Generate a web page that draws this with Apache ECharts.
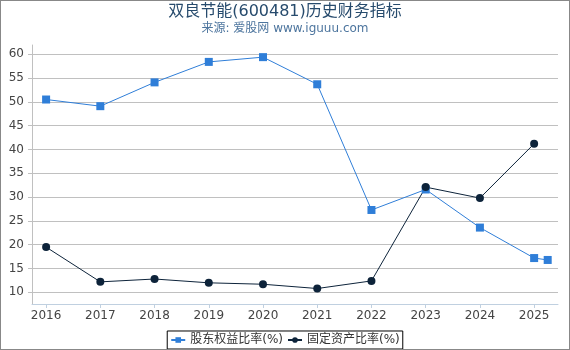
<!DOCTYPE html>
<html>
<head>
<meta charset="utf-8">
<script src="https://cdn.jsdelivr.net/npm/echarts@6/dist/echarts.min.js"></script>
<style>
  html, body { margin: 0; padding: 0; background: #fff; }
  #chart { width: 568px; height: 348px; border: 1px solid #888; }
</style>
</head>
<body>
<div id="chart"></div>
<script>
// 数据
const years = [2016, 2017, 2018, 2019, 2020, 2021, 2022, 2023, 2024, 2025]
const equityX = [2016, 2017, 2018, 2019, 2020, 2021, 2022, 2023, 2024, 2025, 2025.25]
const equityRatio = [50.5, 49.1, 54.1, 58.4, 59.4, 53.7, 27.3, 31.6, 23.6, 17.2, 16.8]
const fixedAssetRatio = [19.5, 12.2, 12.8, 12.0, 11.7, 10.8, 12.4, 32.1, 29.8, 41.2]
const yTicks = [10, 15, 20, 25, 30, 35, 40, 45, 50, 55, 60]

const chart = echarts.init(document.getElementById('chart'))

const font = 'DejaVu Sans, Noto Sans CJK SC, sans-serif'

chart.setOption({
  animation: false,
  title: {
    text: '双良节能(600481)历史财务指标',
    subtext: '来源: 爱股网 www.iguuu.com',
    left: 'center',
    top: -2,
    itemGap: 3,
    textStyle: { color: '#274b6d', fontSize: 16, fontWeight: 'normal', fontFamily: font },
    subtextStyle: { color: '#4d759e', fontSize: 12, fontFamily: font }
  },
  legend: {
    bottom: 0,
    left: 'center',
    itemWidth: 14,
    itemHeight: 7,
    itemGap: 4,
    padding: [3, 3],
    borderColor: '#000',
    borderWidth: 1,
    borderRadius: 0,
    textStyle: { color: '#333', fontSize: 12, fontFamily: font }
  },
  grid: { left: 31, right: 11, top: 44, bottom: 45 },
  xAxis: {
    type: 'value',
    min: 2015.74,
    max: 2025.44,
    axisLine: { lineStyle: { color: '#c0d0e0' } },
    axisTick: { show: true, customValues: years, length: 4, lineStyle: { color: '#c0d0e0' } },
    axisLabel: {
      customValues: years,
      formatter: (v) => String(v),
      color: '#444',
      fontSize: 12,
      fontFamily: font,
      margin: 6
    },
    splitLine: { show: false }
  },
  yAxis: {
    type: 'value',
    min: 7.55,
    max: 61.95,
    axisLine: { show: true, lineStyle: { color: '#c0c0c0' } },
    axisTick: { show: true, customValues: yTicks, length: 4, lineStyle: { color: '#c0c0c0' } },
    axisLabel: { customValues: yTicks, color: '#444', fontSize: 12, fontFamily: font, margin: 8 },
    splitLine: { show: true, lineStyle: { color: '#c0c0c0' } }
  },
  series: [
    {
      name: '股东权益比率(%)',
      type: 'line',
      data: equityX.map((x, i) => [x, equityRatio[i]]),
      symbol: 'rect',
      symbolSize: 8,
      color: '#2f7ed8',
      lineStyle: { width: 1 }
    },
    {
      name: '固定资产比率(%)',
      type: 'line',
      data: years.map((x, i) => [x, fixedAssetRatio[i]]),
      symbol: 'circle',
      symbolSize: 8,
      color: '#0d233a',
      lineStyle: { width: 1 }
    }
  ]
})
</script>
</body>
</html>
